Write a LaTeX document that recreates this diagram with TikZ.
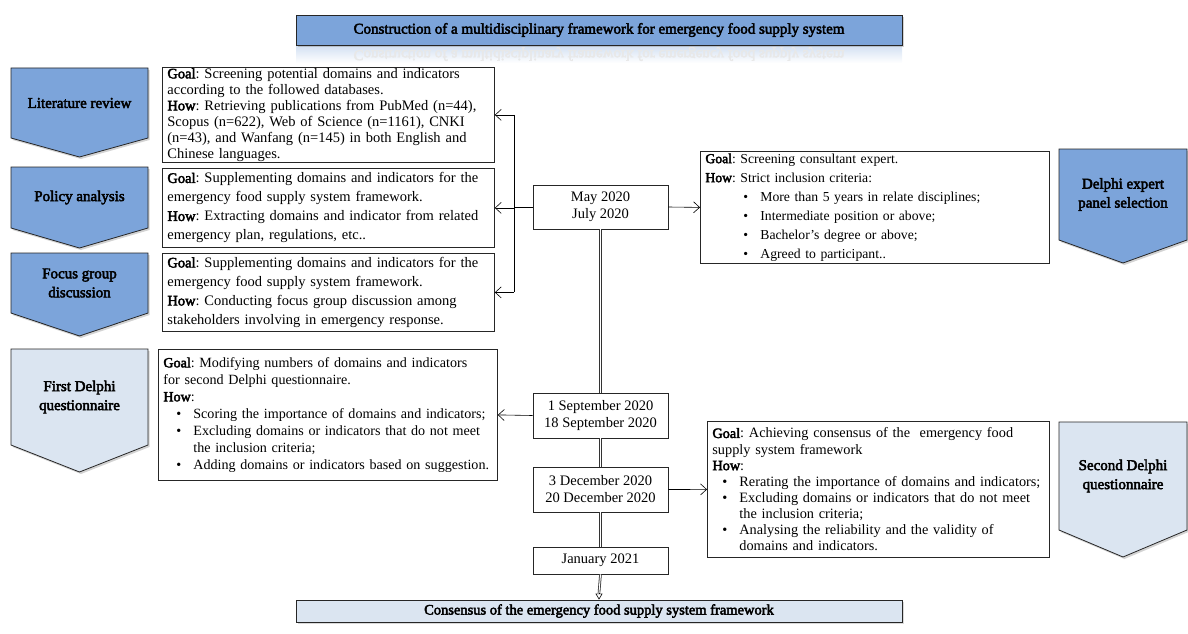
\documentclass[tikz,border=0pt]{standalone}
\usepackage{fontspec}
\setmainfont{Liberation Serif}[BoldFont={Liberation Serif},BoldFeatures={FakeBold=3}]
\usetikzlibrary{arrows.meta,shadows}
\definecolor{midblue}{RGB}{124,164,218}
\definecolor{paleblue}{RGB}{219,229,241}
\tikzset{
  chevron/.style={draw=black!85, line width=0.8pt,
    drop shadow={opacity=0.35, shadow xshift=1.5pt, shadow yshift=-2pt}},
  plabel/.style={font=\bfseries\fontsize{15}{19}\selectfont, align=center},
  infobox/.style={draw=black!85, line width=0.8pt, anchor=north west, align=left,
    inner xsep=5pt, inner ysep=1pt},
  datebox/.style={draw=black!85, line width=0.8pt, minimum width=135pt, align=center,
    font=\fontsize{14.5}{17}\selectfont},
  barb/.style={-{Straight Barb[length=6pt,width=11pt]}, line width=0.6pt},
  dline/.style={draw=black!80, double=white, double distance=1pt, line width=0.8pt},
}
\newcommand\gl{\textbf{Goal}}
\newcommand\hw{\textbf{How}}
\newcommand\bul[2]{\hspace*{#1}\makebox[17pt][l]{\textbullet}\mbox{#2}}
\frenchspacing

\begin{document}
\begin{tikzpicture}[x=1pt,y=-1pt,font=\fontsize{14.5}{16}\selectfont]
  \useasboundingbox (0,0) rectangle (1188,634);

  % title bar with its faded mirror
  \shade[top color=midblue!35, bottom color=white] (296,45) rectangle (902,63);
  \node[transform shape, yscale=-1, text=black!9, font=\bfseries\fontsize{15}{16}\selectfont]
    (titlemirror) at (599,54) {Construction of a multidisciplinary framework for emergency food supply system};
  \node[draw=black!85, line width=0.8pt, fill=midblue, minimum width=606pt, minimum height=30pt,
    font=\bfseries\fontsize{15}{16}\selectfont,
    drop shadow={opacity=0.35, shadow xshift=1.5pt, shadow yshift=-2pt}]
    (title) at (599,30) {Construction of a multidisciplinary framework for emergency food supply system};

  \foreach \n/\xa/\xb/\t/\s/\b/\c/\l in {
      litp/11/148/68/138/157/midblue/{Literature review},
      polp/11/148/167/228/248/midblue/{Policy analysis},
      focp/11/148/253/313/336/midblue/{Focus group\\discussion},
      firp/11/148/349/445/472/paleblue/{First Delphi\\questionnaire},
      expp/1059/1187/149/240/263/midblue/{Delphi expert\\panel selection},
      secp/1059/1187/422/530/557/paleblue/{Second Delphi\\questionnaire}}
    {\filldraw[chevron, fill=\c] (\xa,\t) -- (\xb,\t) -- (\xb,\s) -- ({(\xa+\xb)/2},\b) -- (\xa,\s) -- cycle;
     \node[plabel] (\n) at ({(\xa+\xb)/2},{(\t+\s)/2}) {\l};}

  \node[infobox, minimum width=332pt, minimum height=95pt, text width=322pt, inner ysep=0pt] (lit) at (162,67)
    {\gl: Screening potential domains and indicators\\
     according to the followed databases.\\
     \hw: Retrieving publications from PubMed (n=44),\\
     Scopus (n=622), Web of Science (n=1161), CNKI\\
     (n=43), and Wanfang (n=145) in both English and\\
     Chinese languages.};
  \node[infobox, minimum width=332pt, minimum height=79pt, text width=322pt,
    font=\fontsize{14.5}{19}\selectfont] (policy) at (162,168)
    {\gl: Supplementing domains and indicators for the\\
     emergency food supply system framework.\\
     \hw: Extracting domains and indicator from related\\
     emergency plan, regulations, etc..};
  \node[infobox, minimum width=332pt, minimum height=78pt, text width=322pt,
    font=\fontsize{14.5}{19}\selectfont] (focus) at (162,253)
    {\gl: Supplementing domains and indicators for the\\
     emergency food supply system framework.\\
     \hw: Conducting focus group discussion among\\
     stakeholders involving in emergency response.};
  \node[infobox, minimum width=339pt, minimum height=131pt, text width=329pt,
    font=\fontsize{14.1}{17}\selectfont] (first) at (158,349)
    {\gl: Modifying numbers of domains and indicators\\
     for second Delphi questionnaire.\\
     \hw:\\
     \bul{13pt}{Scoring the importance of domains and indicators;}\\
     \bul{13pt}{Excluding domains or indicators that do not meet}\\
     \hspace*{30pt}the inclusion criteria;\\
     \bul{13pt}{Adding domains or indicators based on suggestion.}};
  \node[infobox, minimum width=349pt, minimum height=112pt, text width=339pt,
    font=\fontsize{13.7}{19}\selectfont] (expert) at (700,151)
    {\gl: Screening consultant expert.\\
     \hw: Strict inclusion criteria:\\
     \bul{38pt}{More than 5 years in relate disciplines;}\\
     \bul{38pt}{Intermediate position or above;}\\
     \bul{38pt}{Bachelor’s degree or above;}\\
     \bul{38pt}{Agreed to participant..}};
  \node[infobox, minimum width=342pt, minimum height=136pt, text width=332pt,
    font=\fontsize{14.3}{16.1}\selectfont] (second) at (707,421)
    {\gl: Achieving consensus of the \ emergency food\\
     supply system framework\\
     \hw:\\
     \bul{10pt}{Rerating the importance of domains and indicators;}\\
     \bul{10pt}{Excluding domains or indicators that do not meet}\\
     \hspace*{27pt}the inclusion criteria;\\
     \bul{10pt}{Analysing the reliability and the validity of}\\
     \hspace*{27pt}domains and indicators.};

  \node[datebox, minimum height=44pt] (may) at (600.5,207) {May 2020\\July 2020};
  \node[datebox, minimum height=45pt] (sept) at (600.5,415.5) {1 September 2020\\18 September 2020};
  \node[datebox, minimum height=45pt] (dec) at (600.5,489.5) {3 December 2020\\20 December 2020};
  \node[datebox, minimum height=27pt] (jan) at (600.5,560.5) {January 2021};

  \node[draw=black!85, line width=0.8pt, fill=paleblue, minimum width=606pt, minimum height=22pt,
    font=\bfseries\fontsize{14.5}{16}\selectfont,
    drop shadow={opacity=0.3, shadow xshift=1.5pt, shadow yshift=-2pt}]
    (consensus) at (599,611) {Consensus of the emergency food supply system framework};

  \coordinate (brk) at (514,207);
  \draw[line width=0.6pt] (may.west) -- (brk);
  \draw[line width=0.6pt] (brk |- lit.east) -- (brk |- focus.east);
  \foreach \b in {lit,policy,focus}
    {\draw[barb] (brk |- \b.east) -- (\b.east);}
  \draw[barb] (may.east) -- (expert.west);
  \draw[barb] (sept.west) -- (first.east);
  \draw[barb] (dec.east) -- (second.west);

  \draw[dline] (may.south) -- (sept.north);
  \draw[dline] (sept.south) -- (dec.north);
  \draw[dline] (dec.south) -- (jan.north);
  \coordinate (tiptop) at ([yshift=7pt]consensus.north);
  \draw[dline] (jan.south) -- (tiptop);
  \draw[-{Triangle[open,length=6pt,width=7pt]}, line width=0.6pt] (tiptop) -- (consensus.north);
\end{tikzpicture}
\end{document}
